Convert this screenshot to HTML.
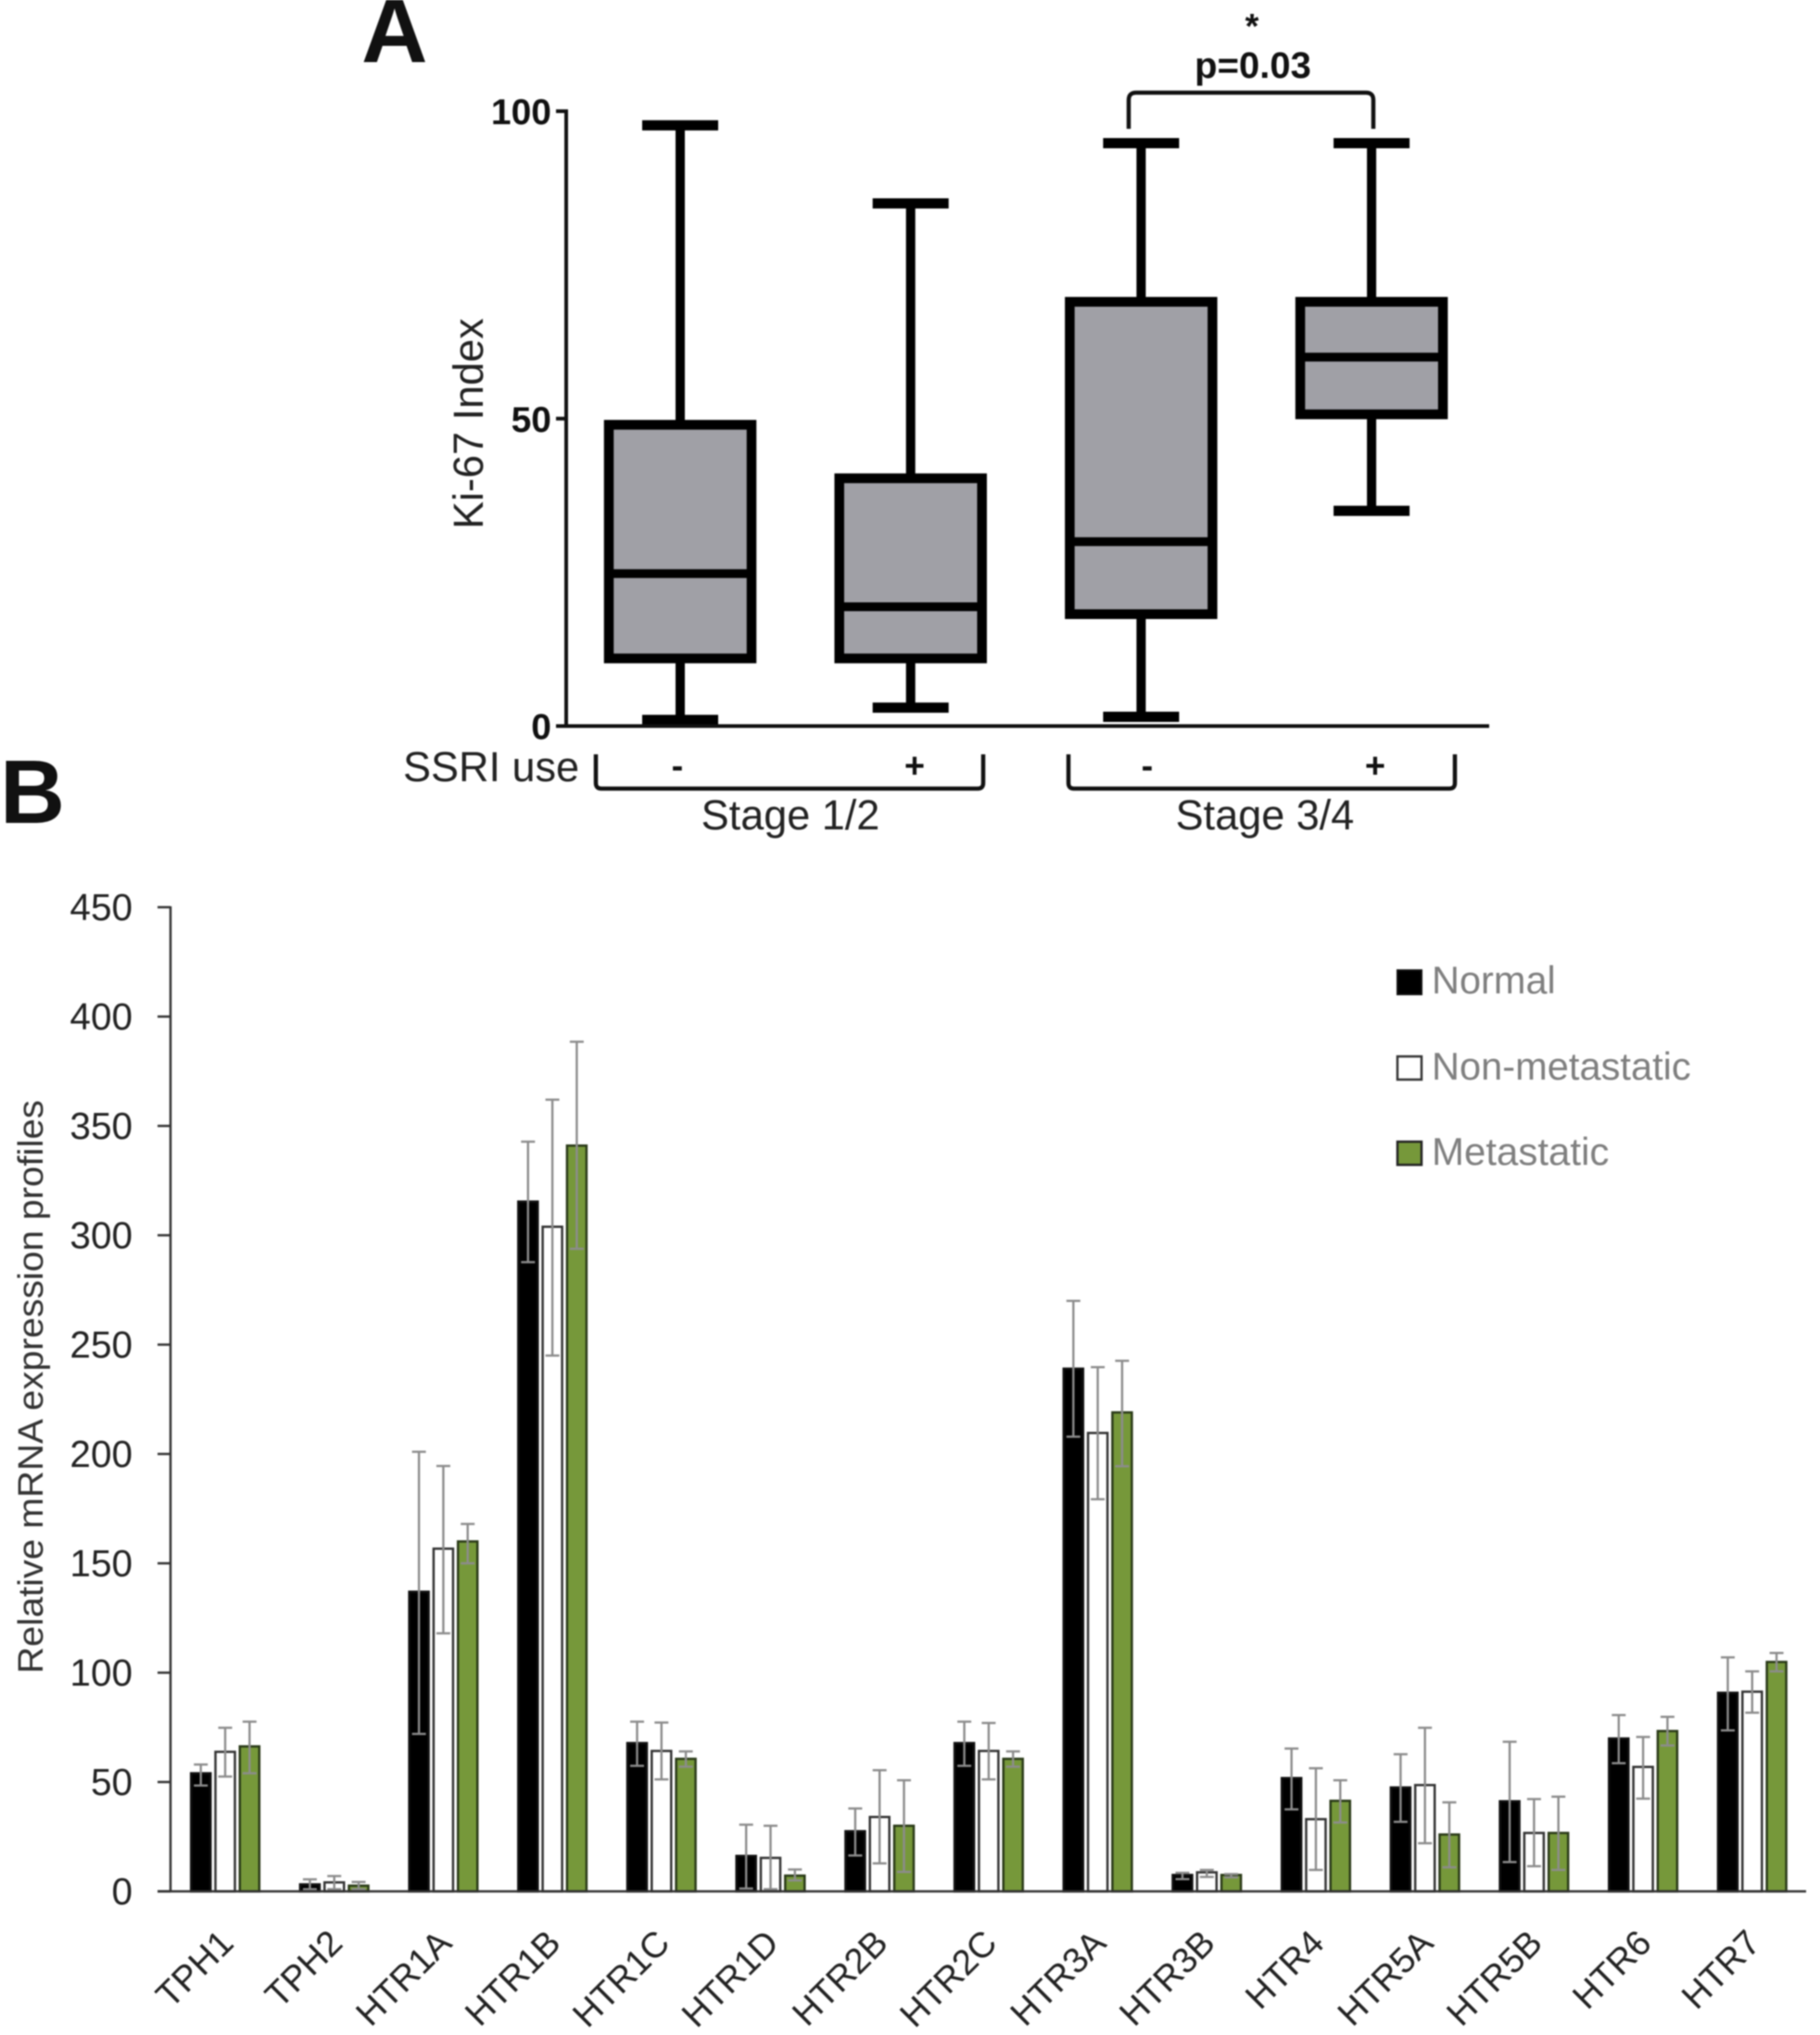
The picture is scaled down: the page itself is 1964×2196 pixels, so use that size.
<!DOCTYPE html>
<html lang="en">
<head>
<meta charset="utf-8">
<title>Ki-67 index and serotonin mRNA expression</title>
<style>
html,body{margin:0;padding:0;background:#fff;width:1964px;height:2196px;overflow:hidden}
svg{display:block;font-family:"Liberation Sans",sans-serif;filter:blur(0.7px)}
</style>
</head>
<body>
<svg id="fig" width="1964" height="2196" viewBox="0 0 1964 2196" xmlns="http://www.w3.org/2000/svg">
  <rect width="1964" height="2196" fill="#fff"/>

  <text x="390" y="67" font-size="99" font-weight="700" fill="#111">A</text>
  <text x="0" y="888" font-size="97" font-weight="700" fill="#111">B</text>

  <g id="panelA"></g>
  <text transform="translate(521,571) rotate(-90)" font-size="45" fill="#222">Ki-67 Index</text>

  <text x="1351" y="41" font-size="38" font-weight="700" text-anchor="middle" fill="#111">*</text>
  <text x="1352" y="84" font-size="40" font-weight="700" text-anchor="middle" fill="#111">p=0.03</text>
  <path d="M1218 139 V108 Q1218 100 1226 100 H1474 Q1482 100 1482 108 V139" fill="none" stroke="#111" stroke-width="4.5"/>

  <text x="435" y="843" font-size="45" fill="#222">SSRI use</text>
  <text x="731" y="839" font-size="38" font-weight="700" text-anchor="middle" fill="#111">-</text>
  <text x="987" y="839" font-size="38" font-weight="700" text-anchor="middle" fill="#111">+</text>
  <text x="1238" y="839" font-size="38" font-weight="700" text-anchor="middle" fill="#111">-</text>
  <text x="1484" y="839" font-size="38" font-weight="700" text-anchor="middle" fill="#111">+</text>
  <path d="M643 814 V845 Q643 851 649 851 H1055 Q1061 851 1061 845 V814" fill="none" stroke="#111" stroke-width="4.5"/>
  <path d="M1153 814 V845 Q1153 851 1159 851 H1564 Q1570 851 1570 845 V814" fill="none" stroke="#111" stroke-width="4.5"/>
  <text x="853" y="895" font-size="45" text-anchor="middle" fill="#222">Stage 1/2</text>
  <text x="1365" y="895" font-size="45" text-anchor="middle" fill="#222">Stage 3/4</text>

  <g id="panelB"></g>
  <text transform="translate(46,1806) rotate(-90)" font-size="38" textLength="619" lengthAdjust="spacingAndGlyphs" fill="#333">Relative mRNA expression profiles</text>

  <g>
    <g>
      <rect x="1508" y="1047" width="26" height="26" fill="#000" stroke="#111" stroke-width="2"/>
      <text x="1545" y="1072" font-size="41.5" fill="#7f7f7f">Normal</text>
    </g>
    <g>
      <rect x="1508" y="1140" width="26" height="25" fill="#fff" stroke="#333" stroke-width="2.5"/>
      <text x="1545" y="1165" font-size="41.6" fill="#7f7f7f">Non-metastatic</text>
    </g>
    <g>
      <rect x="1508" y="1232" width="26" height="25" fill="#76983a" stroke="#222" stroke-width="2.5"/>
      <text x="1545" y="1257" font-size="42" fill="#7f7f7f">Metastatic</text>
    </g>
  </g>
</svg>

<script>
/* Panel A data */
const boxGroups = ['stage12-ssri-neg', 'stage12-ssri-pos', 'stage34-ssri-neg', 'stage34-ssri-pos'];
const boxWhiskerHigh = [97.7, 85, 94.8, 94.8];
const boxQ3 = [49, 40.3, 69, 69];
const boxMedian = [24.8, 19.4, 30, 60];
const boxQ1 = [11, 11, 18.2, 50.7];
const boxWhiskerLow = [1, 3, 1.5, 35];
const boxTicks = [0, 50, 100];

/* Panel B data */
const genes = ['TPH1','TPH2','HTR1A','HTR1B','HTR1C','HTR1D','HTR2B','HTR2C','HTR3A','HTR3B','HTR4','HTR5A','HTR5B','HTR6','HTR7'];
const normalValues = [54, 3.2, 137, 315.4, 67.8, 16.2, 27.5, 67.8, 239, 7.5, 51.8, 47.5, 41.2, 69.9, 90.8];
const normalErrTop = [58, 5.5, 201, 342.8, 77.6, 30.5, 37.9, 77.6, 270, 8.5, 65.3, 62.7, 68.4, 80.6, 107];
const normalErrLow = [48.4, 1, 72, 287.7, 57.4, 1.3, 16.4, 57.4, 207.9, 5.6, 37.5, 31.8, 13.4, 58.6, 73.6];
const nonMetValues = [63.8, 4.1, 156.7, 303.9, 64.2, 15.3, 34, 64.2, 209.6, 8.7, 33, 48.6, 26.7, 56.9, 91.3];
const nonMetErrTop = [74.8, 7, 194.5, 362, 77.2, 30, 55.4, 77, 239.7, 9.8, 56.3, 74.8, 42.2, 70.6, 100.6];
const nonMetErrLow = [52.5, 1, 118, 245, 51.2, 1, 12.8, 51.2, 179.3, 6.6, 9.8, 22, 11.5, 42.4, 81.7];
const metValues = [66.3, 2.6, 160, 341, 60.6, 7.2, 30, 60.6, 219, 7.5, 41.4, 26, 26.7, 73.3, 104.9];
const metErrTop = [77.6, 4.3, 168, 388.5, 64, 10, 50.8, 64, 242.6, 7.9, 50.8, 40.7, 43.3, 79.8, 109];
const metErrLow = [54, 1, 150, 293.8, 57, 5, 8.9, 57, 194.4, 6.4, 31.5, 11, 9.8, 66.7, 100.6];
const barTicks = [0, 50, 100, 150, 200, 250, 300, 350, 400, 450];

const NS = 'http://www.w3.org/2000/svg';
function make(tag, parent, props, text) {
  const el = document.createElementNS(NS, tag);
  for (const k in props) el.setAttribute(k, props[k]);
  if (text !== undefined) el.textContent = text;
  parent.appendChild(el);
  return el;
}

/* Panel A axes */
function yA(v) { return 783.5 - v * 6.635; }
function xA(i) { return 734 + i * 248.7; }
const gA = document.getElementById('panelA');

boxGroups.forEach(function (name, i) {
  const cx = xA(i);
  const halfBox = 77;
  const halfCap = 41;
  const g = make('g', gA, {});
  
  

  let el = make('line', g, { x1: cx, x2: cx, y1: yA(boxWhiskerHigh[i]), y2: yA(boxQ3[i]), stroke: '#000', 'stroke-width': 10 });
  
  
  el = make('line', g, { x1: cx, x2: cx, y1: yA(boxQ1[i]), y2: yA(boxWhiskerLow[i]), stroke: '#000', 'stroke-width': 10 });
  
  
  el = make('line', g, { x1: cx - halfCap, x2: cx + halfCap, y1: yA(boxWhiskerHigh[i]), y2: yA(boxWhiskerHigh[i]), stroke: '#000', 'stroke-width': 11 });
  
  
  el = make('line', g, { x1: cx - halfCap, x2: cx + halfCap, y1: yA(boxWhiskerLow[i]), y2: yA(boxWhiskerLow[i]), stroke: '#000', 'stroke-width': 11 });
  
  
  el = make('rect', g, { x: cx - halfBox, y: yA(boxQ3[i]), width: halfBox * 2, height: yA(boxQ1[i]) - yA(boxQ3[i]), fill: '#a0a0a6', stroke: '#000', 'stroke-width': 10.5 });
  
  
  el = make('line', g, { x1: cx - halfBox, x2: cx + halfBox, y1: yA(boxMedian[i]), y2: yA(boxMedian[i]), stroke: '#000', 'stroke-width': 9.5 });
  
  
});

let axA = make('line', gA, { x1: 611, x2: 611, y1: yA(100) - 2, y2: yA(0) + 2, stroke: '#111', 'stroke-width': 4 });


axA = make('line', gA, { x1: 600, x2: 1607, y1: yA(0), y2: yA(0), stroke: '#111', 'stroke-width': 4 });



boxTicks.forEach(function (t) {
  const tick = make('line', gA, { x1: 600, x2: 611, y1: yA(t), y2: yA(t), stroke: '#111', 'stroke-width': 4 });
  
  
  const lab = make('text', gA, { x: 595, y: yA(t) + 14, 'text-anchor': 'end', 'font-size': 39, 'font-weight': 700, fill: '#111' }, String(t));
  
  
});

/* Panel B axes */
function yB(v) { return 2041 - v * 2.36; }
function xB(i) { return 243 + i * 117.7; }
const gB = document.getElementById('panelB');

const seriesList = [
  { key: 'normal', values: normalValues, top: normalErrTop, low: normalErrLow, fill: '#000', stroke: '#111', offset: -26.3 },
  { key: 'non-metastatic', values: nonMetValues, top: nonMetErrTop, low: nonMetErrLow, fill: '#fff', stroke: '#333', offset: 0 },
  { key: 'metastatic', values: metValues, top: metErrTop, low: metErrLow, fill: '#76983a', stroke: '#2a3a18', offset: 26.3 }
];

genes.forEach(function (gene, i) {
  const g = make('g', gB, {});
  
  
  seriesList.forEach(function (s) {
    const cx = xB(i) + s.offset;
    const bar = make('rect', g, { x: cx - 10.5, y: yB(s.values[i]), width: 21, height: yB(0) - yB(s.values[i]), fill: s.fill, stroke: s.stroke, 'stroke-width': 2.5 });
    
    
    const stem = make('line', g, { x1: cx, x2: cx, y1: yB(s.top[i]), y2: yB(s.low[i]), stroke: '#8c8c8c', 'stroke-width': 2.4 });
    
    
    const capTop = make('line', g, { x1: cx - 7.5, x2: cx + 7.5, y1: yB(s.top[i]), y2: yB(s.top[i]), stroke: '#8c8c8c', 'stroke-width': 2.4 });
    
    
    const capLow = make('line', g, { x1: cx - 7.5, x2: cx + 7.5, y1: yB(s.low[i]), y2: yB(s.low[i]), stroke: '#8c8c8c', 'stroke-width': 2.4 });
    
    
  });
  const lx = xB(i) + 11;
  const label = make('text', gB, { x: lx, y: 2099, transform: 'rotate(-45 ' + lx + ' 2099)', 'text-anchor': 'end', 'font-size': 38.5, fill: '#222' }, gene);
  
  
});

let axB = make('line', gB, { x1: 184, x2: 184, y1: yB(450) - 1, y2: yB(0), stroke: '#333', 'stroke-width': 2.5 });


axB = make('line', gB, { x1: 170, x2: 1949, y1: yB(0), y2: yB(0), stroke: '#333', 'stroke-width': 2.5 });



barTicks.forEach(function (t) {
  const tick = make('line', gB, { x1: 170, x2: 184, y1: yB(t), y2: yB(t), stroke: '#333', 'stroke-width': 2.5 });
  
  
  const lab = make('text', gB, { x: 143, y: yB(t) + 14, 'text-anchor': 'end', 'font-size': 40.5, fill: '#222' }, String(t));
  
  
});
</script>
</body>
</html>
